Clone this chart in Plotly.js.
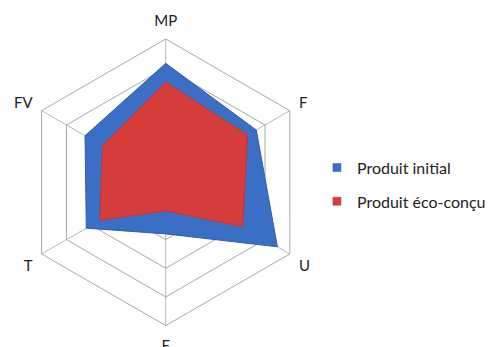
<!DOCTYPE html>
<html>
<head>
<meta charset="utf-8">
<script src="https://cdn.plot.ly/plotly-3.0.1.min.js"></script>
<style>html,body{margin:0;padding:0;background:#fff;}</style>
</head>
<body>
<div id="chart" style="width:496px;height:347px;"></div>
<script>
const categories = ["MP", "F", "U", "E", "T", "FV"];
const seriesNames = ["Produit initial", "Produit éco-conçu"];
const seriesColors = ["#3a6fc5", "#d53d3d"];
const initialValues = [4.15, 3.65, 4.5, 1.8, 3.2, 3.25];
const ecoValues = [3.5, 3.3, 3.1, 1.0, 2.65, 2.55];

function closed(a) { return a.concat([a[0]]); }

const traces = [
  {
    type: "scatterpolar",
    name: seriesNames[0],
    r: closed(initialValues),
    theta: closed(categories),
    fill: "toself",
    fillcolor: seriesColors[0],
    line: {color: "#2f5faa", width: 1},
    mode: "lines",
    showlegend: false,
    hoverinfo: "skip"
  },
  {
    type: "scatterpolar",
    name: seriesNames[1],
    r: closed(ecoValues),
    theta: closed(categories),
    fill: "toself",
    fillcolor: seriesColors[1],
    line: {color: "#c03535", width: 1},
    mode: "lines",
    showlegend: false,
    hoverinfo: "skip"
  },
  {
    type: "scatterpolar",
    name: seriesNames[0],
    r: [null],
    theta: [null],
    mode: "markers",
    marker: {symbol: "square", size: 8, color: seriesColors[0], line: {color: "#2f5faa", width: 0.5}},
    legendgroup: "a",
    hoverinfo: "skip"
  },
  {
    type: "scatterpolar",
    name: seriesNames[1],
    r: [null],
    theta: [null],
    mode: "markers",
    marker: {symbol: "square", size: 8, color: seriesColors[1], line: {color: "#c03535", width: 0.5}},
    legendgroup: "b",
    hoverinfo: "skip"
  }
];

const layout = {
  width: 496,
  height: 347,
  margin: {l: 0, r: 0, t: 0, b: 0},
  paper_bgcolor: "#ffffff",
  font: {family: "Lato, sans-serif", size: 14, color: "#222"},
  showlegend: true,
  legend: {
    x: 0.639, y: 0.468, xanchor: "left", yanchor: "middle",
    font: {family: "Lato, sans-serif", size: 16, color: "#222"},
    itemwidth: 30,
    tracegroupgap: 10,
    bgcolor: "rgba(0,0,0,0)"
  },
  polar: {
    domain: {x: [0.0452, 0.623], y: [0.0617, 0.8876]},
    bgcolor: "#ffffff",
    gridshape: "linear",
    radialaxis: {
      range: [0, 5],
      tickvals: [1, 2, 3, 4, 5],
      showticklabels: false,
      ticks: "",
      showline: false,
      gridcolor: "#a8a8a8",
      gridwidth: 1
    },
    angularaxis: {
      type: "category",
      categoryarray: categories,
      rotation: 90,
      direction: "clockwise",
      showline: true,
      linecolor: "#a8a8a8",
      linewidth: 1,
      gridcolor: "#b8b8b8",
      ticks: "outside",
      ticklen: 7,
      tickcolor: "rgba(0,0,0,0)",
      tickfont: {family: "Lato, sans-serif", size: 15, color: "#222"}
    }
  }
};

Plotly.newPlot("chart", traces, layout, {staticPlot: true, displayModeBar: false});
</script>
</body>
</html>
